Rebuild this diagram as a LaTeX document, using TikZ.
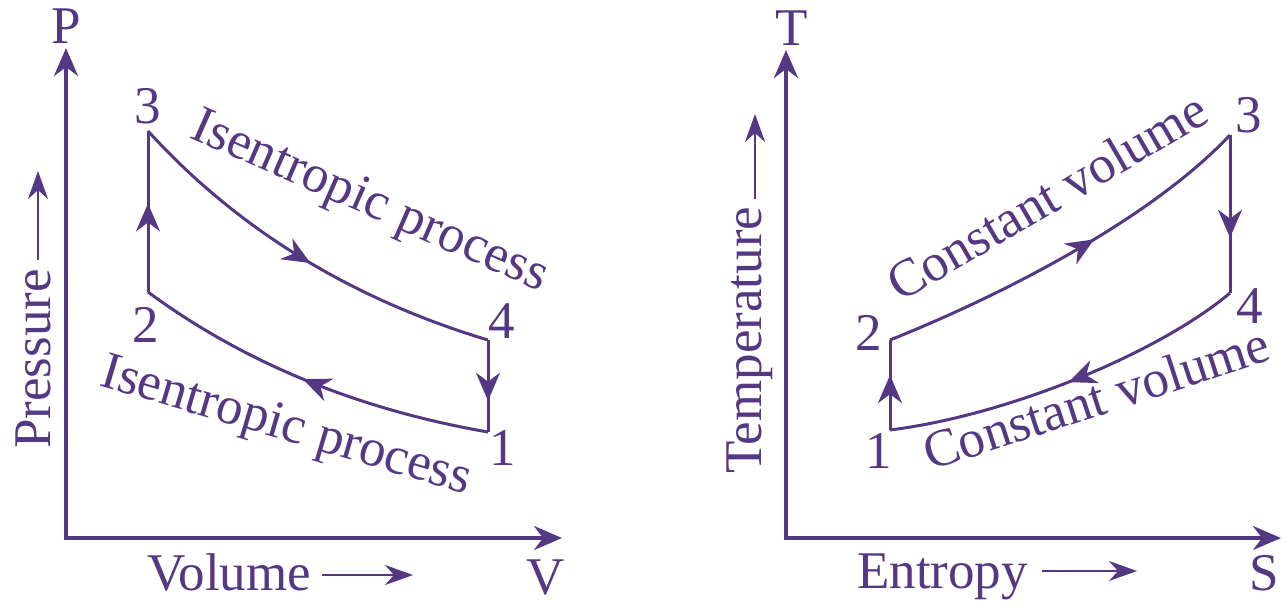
\documentclass[tikz,border=0pt]{standalone}
\usepackage{fontspec}
\setmainfont{Liberation Serif}
\usetikzlibrary{arrows.meta,decorations.markings}
\definecolor{ink}{RGB}{84,56,132}
\begin{document}
\begin{tikzpicture}[x=1pt,y=-1pt,
  every node/.style={text=ink, font=\fontsize{53pt}{62pt}\selectfont, inner sep=0pt},
  axisline/.style={draw=ink, line width=3.5pt,
    {Stealth[length=28pt,width=24pt,inset=9pt]}-{Stealth[length=28pt,width=24pt,inset=9pt]}},
  cycleline/.style={draw=ink, line width=3pt},
  labelarrow/.style={draw=ink, line width=2.6pt, -{Stealth[length=28pt,width=20pt,inset=9pt]}},
  midarrow/.style={postaction={decorate,decoration={markings,
    mark=at position #1 with {\arrow{Stealth[length=28pt,width=24pt,inset=9pt]}}}}},
  midarrow/.default=0.5,
  digit/.style={anchor=base},
  proc/.style={anchor=base west}
]
\useasboundingbox (0,0) rectangle (1286,603);
% ---------- left: P-V ----------
\coordinate (LPtop) at (66,48);
\coordinate (LO) at (66,538);
\coordinate (LVend) at (562,538);
\draw[axisline] (LPtop) -- (LO) -- (LVend);
\node[anchor=base] (Plab) at (66,43) {P};
\node[anchor=base] (Vlab) at (546,594) {V};
\node[anchor=base west] (Vol) at (147,590) {Volume};
\coordinate (VolA) at (322,575);
\coordinate (VolB) at (413,575);
\draw[labelarrow] (VolA) -- (VolB);
\node[anchor=base west, rotate=90] (Pres) at (50,449) {Pressure};
\coordinate (PresA) at (38,260);
\coordinate (PresB) at (38,171);
\draw[labelarrow] (PresA) -- (PresB);

\coordinate (L1) at (488,432);
\coordinate (L2) at (148,292);
\coordinate (L3) at (148,131);
\coordinate (L4) at (488,340);
\draw[cycleline, midarrow=0.52] (L3) .. controls (228,219) and (338,295) .. (L4);
\draw[cycleline, midarrow=0.52] (L1) .. controls (338,406) and (228,351) .. (L2);
\draw[cycleline, midarrow=0.55] (L2) -- (L3);
\draw[cycleline, midarrow=0.66] (L4) -- (L1);
\node[digit] (l3) at (148,123) {3};
\node[digit] (l2) at (146,342) {2};
\node[digit] (l4) at (502,338) {4};
\node[digit] (l1) at (503,465) {1};
\node[proc, rotate=-23.7] (isoA) at (188,137) {Isentropic process};
\node[proc, rotate=-16.5] (isoB) at (98,385) {Isentropic process};

% ---------- right: T-S ----------
\coordinate (RTtop) at (786,50);
\coordinate (RO) at (786,538);
\coordinate (RSend) at (1281,538);
\draw[axisline] (RTtop) -- (RO) -- (RSend);
\node[anchor=base] (Tlab) at (792,45) {T};
\node[anchor=base] (Slab) at (1264,590) {S};
\node[anchor=base west] (Ent) at (857,588) {Entropy};
\coordinate (EntA) at (1042,571);
\coordinate (EntB) at (1137,571);
\draw[labelarrow] (EntA) -- (EntB);
\node[anchor=base west, rotate=90] (Temp) at (761,474) {Temperature};
\coordinate (TempA) at (755,199);
\coordinate (TempB) at (755,114);
\draw[labelarrow] (TempA) -- (TempB);

\coordinate (R1) at (890,430);
\coordinate (R2) at (890,340);
\coordinate (R3) at (1230,135);
\coordinate (R4) at (1230,293);
\draw[cycleline, midarrow=0.57] (R2) .. controls (1000,296) and (1150,220) .. (R3);
\draw[cycleline, midarrow=0.5] (R4) .. controls (1160,352) and (1010,415) .. (R1);
\draw[cycleline, midarrow=0.61] (R1) -- (R2);
\draw[cycleline, midarrow=0.65] (R3) -- (R4);
\node[digit] (r3) at (1249,132) {3};
\node[digit] (r4) at (1250,323) {4};
\node[digit] (r2) at (869,350) {2};
\node[digit] (r1) at (879,468) {1};
\node[proc, rotate=30.3] (cvA) at (900,303) {Constant volume};
\node[proc, rotate=18] (cvB) at (930,471) {Constant volume};
\end{tikzpicture}
\end{document}
